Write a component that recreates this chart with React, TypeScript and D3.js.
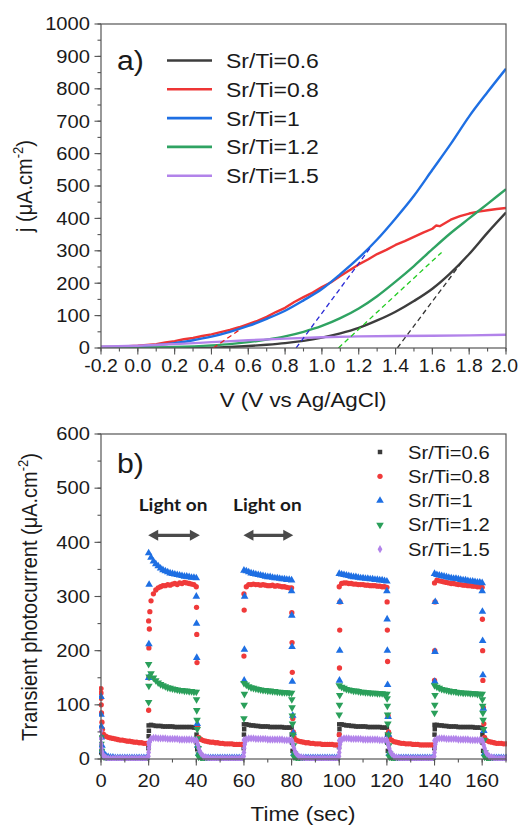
import React from "react";
import * as d3 from "d3";

const W = 518;
const H = 828;
const SX = 1.12; // the source figure is a little stretched sideways
const FONT = "'Liberation Sans', Arial, sans-serif";

const names = ["Sr/Ti=0.6", "Sr/Ti=0.8", "Sr/Ti=1", "Sr/Ti=1.2", "Sr/Ti=1.5"];
const lineColors = ["#3d3d3d", "#ee3535", "#1e6fe3", "#2fa362", "#b283ea"];
const dashColors = ["#333333", "#e82020", "#2a2ad6", "#22cc22"];

// panel a) linear sweep, [V, j]
const jvBlack = [[-0.2, 0], [0.2, 0], [0.4, 1], [0.5, 3], [0.6, 6], [0.7, 10], [0.8, 15], [0.9, 22], [1.0, 32], [1.1, 45], [1.2, 62], [1.3, 85], [1.4, 112], [1.5, 145], [1.6, 183], [1.7, 232], [1.8, 290], [1.9, 356], [2.0, 418]];
const jvRed = [[-0.2, 3], [-0.1, 4], [0, 7], [0.1, 12], [0.15, 17], [0.2, 21], [0.25, 27], [0.3, 31], [0.35, 37], [0.4, 42], [0.45, 49], [0.5, 56], [0.55, 64], [0.6, 74], [0.65, 84], [0.7, 96], [0.75, 111], [0.8, 124], [0.85, 142], [0.9, 157], [0.95, 171], [1.0, 188], [1.05, 203], [1.1, 222], [1.15, 240], [1.2, 258], [1.25, 273], [1.3, 290], [1.35, 303], [1.4, 318], [1.45, 330], [1.5, 343], [1.55, 356], [1.6, 368], [1.62, 378], [1.64, 376], [1.7, 396], [1.75, 407], [1.8, 415], [1.85, 421], [1.9, 425], [1.95, 429], [2.0, 432]];
const jvBlue = [[-0.2, 3], [0, 5], [0.1, 9], [0.2, 15], [0.3, 24], [0.4, 35], [0.5, 50], [0.6, 68], [0.7, 90], [0.8, 115], [0.9, 147], [1.0, 182], [1.1, 228], [1.2, 278], [1.3, 335], [1.4, 400], [1.5, 470], [1.6, 550], [1.7, 630], [1.8, 715], [1.9, 790], [2.0, 862]];
const jvGreen = [[-0.2, 0], [0, 1], [0.2, 3], [0.4, 8], [0.5, 12], [0.6, 18], [0.7, 26], [0.8, 36], [0.9, 50], [1.0, 68], [1.1, 92], [1.2, 122], [1.3, 160], [1.4, 205], [1.5, 253], [1.6, 305], [1.7, 355], [1.8, 400], [1.9, 445], [2.0, 490]];
const jvPurple = [[-0.2, 4], [0, 7], [0.2, 12], [0.4, 18], [0.6, 24], [0.8, 29], [1.0, 33], [1.2, 36], [1.4, 37], [1.6, 38], [1.8, 39], [2.0, 41]];
const jvCurves = [jvBlack, jvRed, jvBlue, jvGreen, jvPurple];

// onset tangents (black, red, blue, green)
const tangents = [
  [[1.41, 0], [1.76, 265]],
  [[0.41, 0], [0.55, 55]],
  [[0.86, 0], [1.27, 315]],
  [[1.09, 0], [1.65, 295]],
];

// panel b) chopped light, one value per second from t = 0 to 170
const tpBlack = [
  12, 4, 2, 2, 1, 1, 1, 1, 1, 1, 1, 1, 1, 1, 1, 1, 1, 1, 1, 1,
  62, 63, 62, 61, 61, 61, 60, 60, 60, 60, 60, 59, 59, 59, 59, 59, 59, 59, 59, 58, 58,
  8, 3, 2, 1, 1, 1, 1, 1, 1, 1, 1, 1, 1, 1, 1, 1, 1, 1, 1,
  64, 64, 63, 62, 62, 61, 61, 60, 60, 60, 60, 59, 59, 59, 59, 59, 59, 58, 58, 58, 58,
  8, 3, 2, 1, 1, 1, 1, 1, 1, 1, 1, 1, 1, 1, 1, 1, 1, 1, 1,
  64, 64, 63, 62, 62, 61, 61, 60, 60, 60, 60, 60, 59, 59, 59, 59, 59, 59, 58, 58, 58,
  8, 3, 2, 1, 1, 1, 1, 1, 1, 1, 1, 1, 1, 1, 1, 1, 1, 1, 1,
  63, 63, 62, 62, 61, 61, 60, 60, 60, 60, 59, 59, 59, 59, 59, 59, 59, 58, 58, 58, 57,
  8, 3, 2, 1, 1, 1, 1, 1, 1, 1,
];
const tpRed = [
  130, 46, 42, 40, 39, 38, 37, 36, 35, 35, 34, 33, 33, 32, 31, 31, 30, 30, 29, 29,
  255, 292, 305, 312, 316, 318, 320, 320, 322, 321, 323, 324, 322, 325, 324, 326, 325, 324, 323, 322, 318,
  40, 36, 34, 33, 32, 31, 31, 30, 30, 29, 29, 28, 28, 28, 28, 27, 27, 27, 27,
  305, 318, 322, 322, 323, 322, 322, 321, 322, 321, 320, 320, 321, 319, 320, 319, 318, 318, 317, 316, 316,
  40, 35, 33, 32, 31, 30, 30, 29, 29, 28, 28, 28, 27, 27, 27, 27, 27, 26, 26,
  318, 324, 325, 325, 324, 324, 323, 323, 322, 322, 322, 321, 321, 320, 320, 320, 319, 319, 318, 318, 317,
  40, 35, 32, 31, 30, 29, 29, 28, 28, 28, 27, 27, 27, 26, 26, 26, 26, 26, 26,
  325, 330, 329, 328, 327, 326, 325, 324, 324, 323, 322, 322, 321, 321, 320, 320, 319, 319, 318, 318, 317,
  40, 34, 32, 31, 30, 29, 29, 29, 28, 28,
];
const tpBlue = [
  115, 10, 6, 4, 3, 3, 2, 2, 2, 2, 2, 2, 2, 2, 2, 2, 2, 2, 2, 2,
  380, 372, 365, 360, 356, 352, 349, 347, 345, 343, 342, 341, 340, 339, 338, 337, 337, 336, 335, 335, 334,
  10, 4, 3, 2, 2, 2, 2, 2, 2, 2, 2, 2, 2, 2, 2, 2, 2, 2, 2,
  348, 347, 345, 343, 342, 341, 340, 339, 338, 337, 336, 336, 335, 334, 334, 333, 332, 332, 331, 331, 330,
  10, 4, 3, 2, 2, 2, 2, 2, 2, 2, 2, 2, 2, 2, 2, 2, 2, 2, 2,
  342, 341, 340, 339, 338, 337, 336, 336, 335, 334, 334, 333, 333, 332, 332, 331, 331, 330, 330, 329, 328,
  10, 4, 3, 2, 2, 2, 2, 2, 2, 2, 2, 2, 2, 2, 2, 2, 2, 2, 2,
  342, 340, 339, 338, 337, 336, 335, 334, 333, 333, 332, 331, 330, 330, 329, 328, 328, 327, 326, 326, 325,
  10, 4, 3, 2, 2, 2, 2, 2, 2, 2,
];
const tpGreen = [
  40, 5, 2, 1, 1, 1, 1, 1, 1, 1, 1, 1, 1, 1, 1, 1, 1, 1, 1, 1,
  175, 158, 150, 145, 141, 138, 136, 134, 132, 131, 130, 129, 128, 127, 127, 126, 126, 125, 125, 124, 124,
  4, 2, 1, 1, 1, 1, 1, 1, 1, 1, 1, 1, 1, 1, 1, 1, 1, 1, 1,
  140, 137, 134, 132, 131, 130, 129, 128, 127, 127, 126, 126, 125, 125, 124, 124, 123, 123, 123, 122, 122,
  4, 2, 1, 1, 1, 1, 1, 1, 1, 1, 1, 1, 1, 1, 1, 1, 1, 1, 1,
  136, 133, 131, 129, 128, 127, 126, 126, 125, 124, 124, 123, 123, 122, 122, 122, 121, 121, 121, 120, 120,
  4, 2, 1, 1, 1, 1, 1, 1, 1, 1, 1, 1, 1, 1, 1, 1, 1, 1, 1,
  136, 133, 131, 129, 128, 127, 126, 125, 125, 124, 123, 123, 122, 122, 122, 121, 121, 121, 120, 120, 120,
  4, 2, 1, 1, 1, 1, 1, 1, 1, 1,
];
const tpPurple = [
  52, 6, 3, 1, 1, 1, 1, 1, 1, 1, 1, 1, 1, 1, 1, 1, 1, 1, 1, 1,
  30, 37, 39, 39, 38, 38, 38, 38, 37, 37, 37, 37, 37, 36, 36, 36, 36, 36, 36, 35, 35,
  20, 10, 5, 3, 2, 1, 1, 1, 1, 1, 1, 1, 1, 1, 1, 1, 1, 1, 1,
  35, 37, 38, 38, 38, 37, 37, 37, 37, 37, 36, 36, 36, 36, 36, 36, 36, 35, 35, 35, 35,
  20, 10, 5, 3, 2, 1, 1, 1, 1, 1, 1, 1, 1, 1, 1, 1, 1, 1, 1,
  34, 37, 38, 38, 38, 37, 37, 37, 37, 37, 36, 36, 36, 36, 36, 36, 36, 35, 35, 35, 35,
  20, 10, 5, 3, 2, 1, 1, 1, 1, 1, 1, 1, 1, 1, 1, 1, 1, 1, 1,
  34, 37, 38, 38, 38, 37, 37, 37, 37, 37, 36, 36, 36, 36, 36, 35, 35, 35, 35, 35, 35,
  20, 10, 5, 3, 2, 1, 1, 1, 1, 1,
];

// fast samples caught on the switching edges, [t, j]
const edgeBlack = [[19.9, 20], [20, 42], [20.1, 52], [40.1, 45], [40.2, 30], [40.4, 18], [59.9, 20], [60, 45], [60.1, 55], [80.1, 45], [80.2, 30], [80.4, 15], [99.9, 22], [100, 45], [100.1, 55], [120.1, 45], [120.2, 30], [120.4, 15], [139.9, 20], [140, 45], [140.1, 55], [160.1, 45], [160.2, 30], [160.4, 15]];
const edgeRed = [[0, 122], [0, 112], [0.1, 100], [0.2, 85], [0.4, 68], [0.6, 55], [20, 90], [20.1, 150], [20.1, 205], [20.3, 240], [20.5, 272], [40.1, 280], [40.2, 230], [40.3, 178], [40.5, 60], [60, 190], [60.1, 275], [80.1, 270], [80.2, 215], [80.3, 160], [80.5, 75], [80.7, 50], [100, 45], [100.1, 168], [100.2, 238], [100.3, 290], [120.1, 290], [120.2, 238], [120.3, 180], [120.5, 80], [120.7, 50], [140, 145], [140.1, 200], [140.2, 290], [160.1, 258], [160.2, 200], [160.3, 145], [160.5, 95], [160.7, 65]];
const edgeBlue = [[0, 82], [0.1, 60], [0.2, 40], [0.4, 25], [0.6, 15], [20, 150], [20.1, 212], [20.2, 322], [40, 300], [40.1, 250], [40.2, 187], [40.4, 65], [40.6, 25], [60.1, 145], [60.2, 202], [60.3, 300], [80, 310], [80.1, 265], [80.2, 207], [80.3, 143], [80.5, 80], [80.7, 48], [100.1, 145], [100.2, 200], [100.3, 290], [120, 310], [120.1, 258], [120.2, 200], [120.3, 137], [120.5, 78], [120.7, 45], [140.1, 143], [140.2, 198], [140.3, 290], [160, 310], [160.1, 272], [160.2, 218], [160.3, 155], [160.5, 93], [160.7, 52]];
const edgeGreen = [[0, 28], [0.2, 15], [20, 105], [20.1, 135], [20.2, 152], [40.1, 110], [40.2, 90], [40.3, 72], [40.4, 55], [40.6, 38], [40.8, 20], [41.2, 8], [60, 75], [60.1, 100], [60.2, 120], [80.1, 110], [80.2, 95], [80.3, 80], [80.4, 65], [80.6, 45], [80.8, 25], [81.2, 10], [100, 82], [100.1, 100], [100.2, 118], [120.1, 112], [120.2, 98], [120.3, 82], [120.4, 65], [120.6, 45], [120.8, 25], [121.2, 10], [140, 85], [140.1, 100], [140.2, 118], [160.1, 110], [160.2, 98], [160.3, 85], [160.4, 72], [160.6, 55], [160.8, 35], [161.2, 12]];
const edgePurple = [[0, 38], [0.1, 28], [0.2, 20], [0.4, 14], [0.6, 10], [19.9, 5], [20, 12], [20.1, 20], [20.2, 26], [20.4, 31], [20.7, 35], [40.3, 32], [40.6, 27], [41.5, 14], [59.9, 5], [60, 12], [60.1, 20], [60.3, 27], [60.6, 32], [80.3, 31], [80.6, 26], [81.5, 13], [99.9, 5], [100, 12], [100.1, 20], [100.3, 27], [100.6, 32], [120.3, 31], [120.6, 26], [121.5, 13], [139.9, 5], [140, 12], [140.1, 20], [140.3, 27], [140.6, 32], [160.3, 31], [160.6, 26], [161.5, 13]];

const tpSeries = [tpBlack, tpRed, tpBlue, tpGreen, tpPurple];
const tpEdges = [edgeBlack, edgeRed, edgeBlue, edgeGreen, edgePurple];
const markerColors = ["#3a3a3a", "#f03a3a", "#1e6fe3", "#2a9f5a", "#b283ea"];

// "Light on" annotations: arrow span in seconds and level in uA/cm2
const lightSpans = [[19.8, 41.5], [59.8, 80.7]];
const arrowLevel = 413;
const labelLevel = 457;

const xTicksA = [-0.2, 0, 0.2, 0.4, 0.6, 0.8, 1.0, 1.2, 1.4, 1.6, 1.8, 2.0];
const yTicksA = [0, 100, 200, 300, 400, 500, 600, 700, 800, 900, 1000];
const xTicksB = [0, 20, 40, 60, 80, 100, 120, 140, 160];
const yTicksB = [0, 100, 200, 300, 400, 500, 600];

const xA = d3.scaleLinear().domain([-0.2, 2.0]).range([101, 506]);
const yA = d3.scaleLinear().domain([0, 1000]).range([348, 24]);
const xB = d3.scaleLinear().domain([0, 170]).range([101, 506]);
const yB = d3.scaleLinear().domain([0, 600]).range([759, 434]);

const symbols = [
  d3.symbol(d3.symbolSquare, 20)(),
  d3.symbol(d3.symbolCircle, 22)(),
  d3.symbol(d3.symbolTriangle, 25)(),
  d3.symbol(d3.symbolTriangle, 25)(),
  d3.symbol(d3.symbolDiamond, 20)(),
];
const symRot = [0, 0, 0, 180, 0];

function Txt({ x, y, size, anchor = "start", weight = "normal", family = FONT, rot = false, sx = SX, fill = "#1a1a1a", children }: any) {
  return (
    <text
      transform={`translate(${x},${y}) scale(${sx},1)` + (rot ? " rotate(-90)" : "")}
      fontSize={size}
      textAnchor={anchor}
      fontWeight={weight}
      fontFamily={family}
      fill={fill}
    >
      {children}
    </text>
  );
}

function Frame({ x, y }: any) {
  const [x0, x1] = x.range();
  const [y1, y0] = y.range();
  return <rect x={x0} y={y0} width={x1 - x0} height={y1 - y0} fill="none" stroke="#555" strokeWidth={1.2} />;
}

function Ticks({ x, y, xMajor, yMajor, xMinorStep, yMinorStep }: any) {
  const [x0, x1] = x.domain();
  const [y0, y1] = y.domain();
  const xMinor = d3.range(x0, x1 + 1e-9, xMinorStep);
  const yMinor = d3.range(y0, y1 + 1e-9, yMinorStep);
  const bottom = y.range()[0];
  const left = x.range()[0];
  return (
    <g stroke="#555" strokeWidth={1.1}>
      {xMinor.map((v: number, i: number) => (
        <line key={"xm" + i} x1={x(v)} x2={x(v)} y1={bottom} y2={bottom + 3.5} />
      ))}
      {xMajor.map((v: number) => (
        <line key={"xM" + v} x1={x(v)} x2={x(v)} y1={bottom} y2={bottom + 6.5} />
      ))}
      {yMinor.map((v: number, i: number) => (
        <line key={"ym" + i} x1={left} x2={left - 3.5} y1={y(v)} y2={y(v)} />
      ))}
      {yMajor.map((v: number) => (
        <line key={"yM" + v} x1={left} x2={left - 6.5} y1={y(v)} y2={y(v)} />
      ))}
    </g>
  );
}

export default function App() {
  const line = d3
    .line<number[]>()
    .x((d) => xA(d[0]))
    .y((d) => yA(d[1]));
  const smooth = d3
    .line<number[]>()
    .curve(d3.curveMonotoneX)
    .x((d) => xA(d[0]))
    .y((d) => yA(d[1]));

  const legA = [60.5, 89.3, 118.1, 146.9, 175.7];
  const legB = [452, 476.3, 500.6, 524.9, 549.2];

  return (
    <svg
      width={W}
      height={H}
      viewBox={`0 0 ${W} ${H}`}
      style={{ position: "absolute", left: 0, top: 0, background: "#fff" }}
    >
      <defs>
        <clipPath id="clipA">
          <rect x={101} y={24} width={405} height={324} />
        </clipPath>
        <clipPath id="clipB">
          <rect x={99} y={434} width={408} height={327} />
        </clipPath>
      </defs>

      {/* ---------- panel a ---------- */}
      <g clipPath="url(#clipA)">
        {jvCurves.map((c, i) => (
          <path
            key={"c" + i}
            d={(i === 1 ? line(c) : smooth(c)) || ""}
            fill="none"
            stroke={lineColors[i]}
            strokeWidth={2.4}
            strokeLinejoin="round"
          />
        ))}
        {tangents.map((t, i) => (
          <path
            key={"t" + i}
            d={line(t) || ""}
            fill="none"
            stroke={dashColors[i]}
            strokeWidth={1.3}
            strokeDasharray="5,3.5"
          />
        ))}
      </g>
      <Frame x={xA} y={yA} />
      <Ticks x={xA} y={yA} xMajor={xTicksA} yMajor={yTicksA} xMinorStep={0.1} yMinorStep={50} />
      {yTicksA.map((v) => (
        <Txt key={"ya" + v} x={90} y={yA(v) + 6.3} size={18} anchor="end">
          {v}
        </Txt>
      ))}
      {xTicksA.map((v) => (
        <Txt key={"xa" + v} x={xA(v) - (v === 2 ? 1.5 : 0)} y={372} size={18} anchor="middle" sx={1.08}>
          {v.toFixed(1)}
        </Txt>
      ))}
      <Txt x={303} y={407} size={20} anchor="middle">
        V (V vs Ag/AgCl)
      </Txt>
      <Txt x={32} y={186} size={20} anchor="middle" rot>
        j (μA.cm<tspan dy={-8} fontSize={13}>-2</tspan>
        <tspan dy={8}>)</tspan>
      </Txt>
      <Txt x={117} y={70} size={27}>
        a)
      </Txt>
      {names.map((n, i) => (
        <g key={"la" + i}>
          <line x1={167} x2={212} y1={legA[i]} y2={legA[i]} stroke={lineColors[i]} strokeWidth={2.6} />
          <Txt x={226} y={legA[i] + 7.4} size={20.5}>
            {n}
          </Txt>
        </g>
      ))}

      {/* ---------- panel b ---------- */}
      <g clipPath="url(#clipB)">
        {tpSeries.map((s, k) => {
          const pts = s.map((v, i) => [i, v]).concat(tpEdges[k]);
          return (
            <g key={"s" + k} fill={markerColors[k]}>
              {pts.map((p, j) => (
                <path
                  key={j}
                  d={symbols[k] || ""}
                  transform={`translate(${xB(p[0])},${yB(p[1])}) rotate(${symRot[k]})`}
                />
              ))}
            </g>
          );
        })}
      </g>
      <Frame x={xB} y={yB} />
      <Ticks x={xB} y={yB} xMajor={xTicksB} yMajor={yTicksB} xMinorStep={10} yMinorStep={50} />
      {yTicksB.map((v) => (
        <Txt key={"yb" + v} x={90} y={yB(v) + 6.3} size={18} anchor="end">
          {v}
        </Txt>
      ))}
      {xTicksB.map((v) => (
        <Txt key={"xb" + v} x={xB(v)} y={787} size={18} anchor="middle">
          {v}
        </Txt>
      ))}
      <Txt x={303} y={821} size={20} anchor="middle">
        Time (sec)
      </Txt>
      <Txt x={37} y={597} size={20} anchor="middle" rot>
        Transient photocurrent (μA.cm<tspan dy={-8} fontSize={13}>-2</tspan>
        <tspan dy={8}>)</tspan>
      </Txt>
      <Txt x={117} y={473} size={27}>
        b)
      </Txt>
      {lightSpans.map((sp, i) => {
        const a = xB(sp[0]);
        const b = xB(sp[1]);
        const yy = yB(arrowLevel);
        const hl = 10;
        const hw = 5.5;
        return (
          <g key={"ls" + i}>
            <line x1={a + hl - 1} x2={b - hl + 1} y1={yy} y2={yy} stroke="#4a4a4a" strokeWidth={3.2} />
            <polygon points={`${a},${yy} ${a + hl},${yy - hw} ${a + hl},${yy + hw}`} fill="#4a4a4a" />
            <polygon points={`${b},${yy} ${b - hl},${yy - hw} ${b - hl},${yy + hw}`} fill="#4a4a4a" />
            <Txt x={(a + b) / 2 - 1} y={yB(labelLevel)} size={17} anchor="middle" weight="bold" family="Lato, 'Open Sans', sans-serif">
              Light on
            </Txt>
          </g>
        );
      })}
      {names.map((n, i) => (
        <g key={"lb" + i}>
          <path
            d={symbols[i] || ""}
            fill={markerColors[i]}
            transform={`translate(380,${legB[i]}) rotate(${symRot[i]})`}
          />
          <Txt x={408} y={legB[i] + 6.5} size={18}>
            {n}
          </Txt>
        </g>
      ))}
    </svg>
  );
}
